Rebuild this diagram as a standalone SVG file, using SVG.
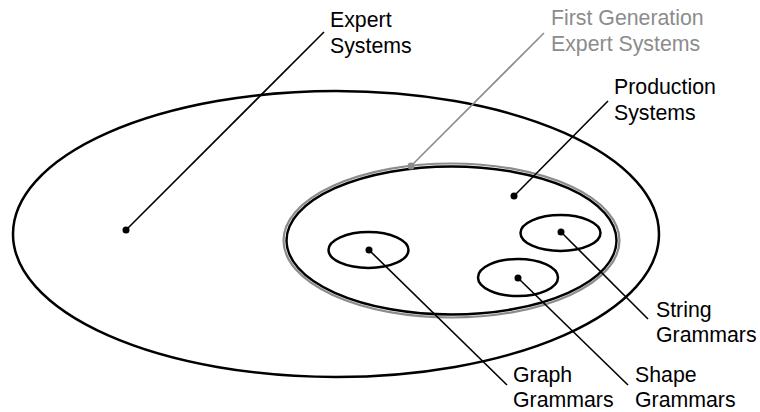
<svg xmlns="http://www.w3.org/2000/svg" width="760" height="412" viewBox="0 0 760 412">
<style>
.set{fill:none;stroke:#000;stroke-width:2.5}
.gset{fill:none;stroke:#8c8c8c;stroke-width:2.2}
.lead{stroke:#000;stroke-width:1.6;fill:none}
.glead{stroke:#8c8c8c;stroke-width:1.6;fill:none}
.dot{fill:#000}
.gdot{fill:#8c8c8c}
text{font-family:"Liberation Sans",Arial,sans-serif;font-size:21.3px;fill:#000}
.gt{fill:#8c8c8c}
</style>
<rect width="760" height="412" fill="#fff"/>
<g id="expert-systems">
<ellipse class="set" cx="336" cy="234" rx="323" ry="143"/>
<text x="330" y="27">Expert</text>
<text x="330" y="53">Systems</text>
</g>
<g id="first-generation">
<ellipse class="gset" cx="451.5" cy="240.5" rx="168" ry="77"/>
<text class="gt" x="551" y="25">First Generation</text>
<text class="gt" x="551" y="51">Expert Systems</text>
</g>
<g id="production-systems">
<ellipse class="set" cx="451.5" cy="240.5" rx="165" ry="74"/>
<text x="614" y="94">Production</text>
<text x="614" y="120">Systems</text>
</g>
<g id="graph-grammars">
<ellipse class="set" cx="368.5" cy="250" rx="40" ry="18"/>
<text x="513" y="382">Graph</text>
<text x="513" y="407">Grammars</text>
</g>
<g id="shape-grammars">
<ellipse class="set" cx="518" cy="277.5" rx="40" ry="18.5"/>
<text x="635" y="382">Shape</text>
<text x="635" y="407">Grammars</text>
</g>
<g id="string-grammars">
<ellipse class="set" cx="560.5" cy="233" rx="40" ry="18"/>
<text x="656" y="317">String</text>
<text x="656" y="342">Grammars</text>
</g>
<g id="connectors">
<line class="lead" x1="126" y1="230" x2="324" y2="32"/>
<circle class="dot" cx="126" cy="230" r="3.5"/>
<line class="glead" x1="411" y1="166" x2="544" y2="33"/>
<circle class="gdot" cx="411" cy="166" r="3.5"/>
<line class="lead" x1="514" y1="196" x2="608" y2="101"/>
<circle class="dot" cx="514" cy="196" r="3.5"/>
<line class="lead" x1="369" y1="250" x2="507" y2="385"/>
<circle class="dot" cx="369" cy="250" r="3.5"/>
<line class="lead" x1="518" y1="278" x2="628" y2="385"/>
<circle class="dot" cx="518" cy="278" r="3.5"/>
<line class="lead" x1="561" y1="232" x2="648" y2="319"/>
<circle class="dot" cx="561" cy="232" r="3.5"/>
</g>
</svg>
